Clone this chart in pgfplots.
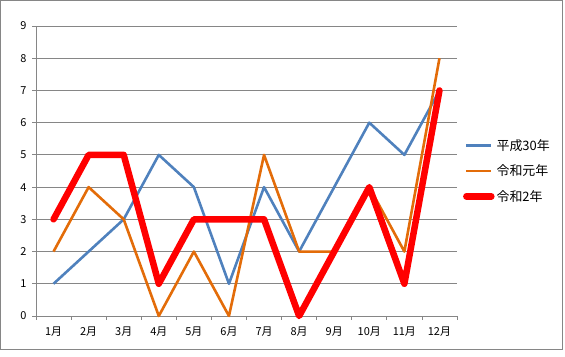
\documentclass[border=0pt]{standalone}
\usepackage{pgfplots}
\pgfplotsset{compat=1.18}
\usepackage{fontspec}
\setmainfont{Noto Sans CJK JP}
\definecolor{xblue}{HTML}{4F81BD}
\definecolor{xorange}{HTML}{E36C09}
\definecolor{xgrid}{HTML}{868686}
\begin{document}
\begin{tikzpicture}
\path (0,0) rectangle (565bp,357bp);
\draw[xgrid, line width=0.8bp] (0.5bp,8bp) rectangle (562bp,356.5bp);
\begin{axis}[
  at={(36bp,41bp)}, anchor=south west,
  scale only axis, width=421bp, height=290bp,
  xmin=0.5, xmax=12.5, ymin=0, ymax=9,
  clip=false,
  axis x line*=bottom, axis y line*=left,
  axis line style={xgrid, line width=0.8bp, -},
  xtick={1,...,12},
  xticklabels={1月,2月,3月,4月,5月,6月,7月,8月,9月,10月,11月,12月},
  minor xtick={0.5,1.5,...,12.5},
  ytick={0,...,9},
  ymajorgrids,
  grid style={xgrid, line width=0.8bp},
  tick align=outside,
  major tick length=4bp, minor tick length=4bp,
  x tick style={draw=none},
  minor x tick style={draw=xgrid, line width=0.8bp},
  y tick style={xgrid, line width=0.8bp},
  tick label style={font=\fontsize{11}{13}\selectfont, text=black},
  /pgf/number format/assume math mode=true,
  xticklabel style={yshift=-3bp},
  yticklabel style={xshift=-2bp},
  legend style={at={(1.014,0.5)}, anchor=west, draw=none, fill=none,
    font=\fontsize{13}{15}\selectfont, row sep=9bp,
    inner sep=0pt},
  legend cell align=left,
  legend image code/.code={\draw[#1] (0bp,0bp) -- (25bp,0bp);},
]
\addplot[xblue, line width=2.6bp, line join=round] coordinates {
(1,1)(2,2)(3,3)(4,5)(5,4)(6,1)(7,4)(8,2)(9,4)(10,6)(11,5)(12,7)};
\addlegendentry{平成30年}
\addplot[xorange, line width=2.6bp, line join=round] coordinates {
(1,2)(2,4)(3,3)(4,0)(5,2)(6,0)(7,5)(8,2)(9,2)(10,4)(11,2)(12,8)};
\addlegendentry{令和元年}
\addplot[red, line width=6.5bp, line join=round, line cap=round] coordinates {
(1,3)(2,5)(3,5)(4,1)(5,3)(6,3)(7,3)(8,0)(9,2)(10,4)(11,1)(12,7)};
\addlegendentry{令和2年}
\end{axis}
\end{tikzpicture}
\end{document}
